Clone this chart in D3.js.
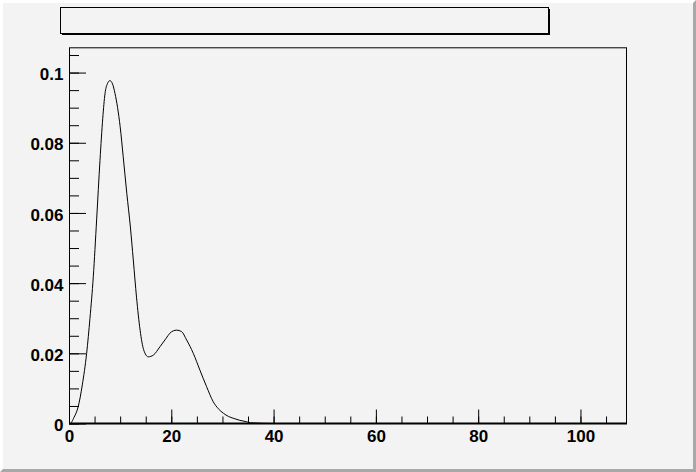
<!DOCTYPE html>
<html>
<head>
<meta charset="utf-8">
<script src="https://cdn.jsdelivr.net/npm/d3@7"></script>
<style>
  html, body { margin: 0; padding: 0; background: #f3f3f3; }
  svg { display: block; }
  .tick text { font-family: "Liberation Sans", Arial, sans-serif; font-weight: bold; font-size: 17px; fill: #000; }
</style>
</head>
<body>
<div id="chart"></div>
<script>
// curve
const xValues = [0, 0.2, 1, 1.8, 2.6, 3.45, 4.1, 4.75, 5.4, 6.06, 6.6, 7.04, 7.5, 8.0, 8.5, 9.0, 9.5, 10.0, 10.6, 11.3, 12.0, 12.57, 13.2, 13.9, 14.6, 15.5, 16.5, 17.8, 19.0, 19.7, 20.4, 21.05, 22.0, 23.0, 24.3, 25.6, 26.9, 28.2, 29.2, 30.2, 31.2, 32.1, 33.4, 34.7, 35.5, 40, 109];
const yValues = [0, 0, 0.0018, 0.0048, 0.011, 0.020, 0.030, 0.0418, 0.058, 0.075, 0.087, 0.094, 0.0968, 0.0977, 0.0968, 0.094, 0.090, 0.0846, 0.076, 0.0656, 0.056, 0.0466, 0.036, 0.0266, 0.021, 0.019, 0.0195, 0.0219, 0.0243, 0.0257, 0.0264, 0.0266, 0.0262, 0.0238, 0.020, 0.0152, 0.0105, 0.0062, 0.0042, 0.0029, 0.002, 0.0015, 0.0009, 0.0005, 0.0002, 0, 0];

const xMajorTicks = [0, 20, 40, 60, 80, 100];
const xMinorTicks = d3.range(0, 110, 5);
const yMajorTicks = [0, 0.02, 0.04, 0.06, 0.08, 0.1];
const yMinorTicks = d3.range(0, 0.1051, 0.005);

const width = 696, height = 472;
const frame = { left: 69, right: 626.5, top: 47.3, bottom: 423.5 };
const bg = "#f3f3f3";

const svg = d3.select("#chart")
    .append("svg")
    .attr("width", width)
    .attr("height", height);

svg.append("rect")
    .attr("width", width)
    .attr("height", height)
    .attr("fill", bg);

// canvas bevel
svg.append("path")
    .attr("d", `M0,0 H${width} L${width - 3},3 H3 V${height - 3} L0,${height} Z`)
    .attr("fill", "#ffffff");
svg.append("path")
    .attr("d", `M${width},0 V${height} H0 L3,${height - 3} H${width - 3} V3 Z`)
    .attr("fill", "#a8a8a8");

// title box with shadow
svg.append("rect")
    .attr("x", 62).attr("y", 9)
    .attr("width", 488).attr("height", 26)
    .attr("fill", "#000");
svg.append("rect")
    .attr("x", 60.5).attr("y", 7.5)
    .attr("width", 488).attr("height", 26)
    .attr("fill", bg)
    .attr("stroke", "#000")
    .attr("stroke-width", 1);

const x = d3.scaleLinear()
    .domain([0, 109])
    .range([frame.left, frame.right]);

const y = d3.scaleLinear()
    .domain([0, 0.1072])
    .range([frame.bottom, frame.top]);

// frame
svg.append("rect")
    .attr("x", frame.left + 0.5)
    .attr("y", frame.top + 0.5)
    .attr("width", frame.right - frame.left - 0.5)
    .attr("height", frame.bottom - frame.top - 0.5)
    .attr("fill", "none")
    .attr("stroke", "#000")
    .attr("stroke-width", 1);

// x axis
const xMinor = svg.append("g")
    .attr("transform", `translate(0, ${frame.bottom})`)
    .call(d3.axisBottom(x).tickValues(xMinorTicks).tickSize(-7).tickFormat(""));
const xMajor = svg.append("g")
    .attr("transform", `translate(0, ${frame.bottom})`)
    .call(d3.axisBottom(x).tickValues(xMajorTicks).tickSize(-14).tickPadding(6).tickFormat(d3.format("d")));

// y axis
const yMinor = svg.append("g")
    .attr("transform", `translate(${frame.left}, 0)`)
    .call(d3.axisLeft(y).tickValues(yMinorTicks).tickSize(-10).tickFormat(""));
const yMajor = svg.append("g")
    .attr("transform", `translate(${frame.left}, 0)`)
    .call(d3.axisLeft(y).tickValues(yMajorTicks).tickSize(-17).tickPadding(5.5).tickFormat(d => String(d)));

[xMinor, xMajor, yMinor, yMajor].forEach(g => {
    g.select(".domain").remove();
    g.selectAll(".tick line").attr("stroke", "#000").attr("stroke-width", 1);
    g.selectAll(".tick text").attr("font-family", null).attr("font-size", null);
});
yMajor.selectAll(".tick text").attr("dy", "0.42em");

// thicker x axis line
svg.append("line")
    .attr("x1", frame.left).attr("x2", frame.right + 0.5)
    .attr("y1", frame.bottom).attr("y2", frame.bottom)
    .attr("stroke", "#000")
    .attr("stroke-width", 2);

const line = d3.line()
    .x((d, i) => x(xValues[i]))
    .y(d => y(d))
    .curve(d3.curveMonotoneX);

svg.append("path")
    .datum(yValues)
    .attr("d", line)
    .attr("fill", "none")
    .attr("stroke", "#000")
    .attr("stroke-width", 1);
</script>
</body>
</html>
